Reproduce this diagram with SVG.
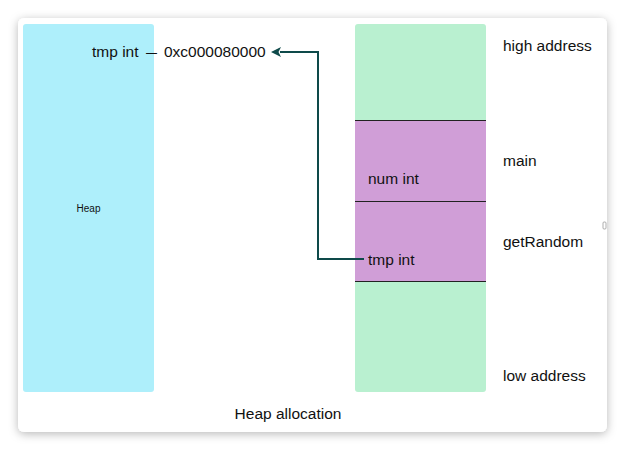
<svg xmlns="http://www.w3.org/2000/svg" width="624" height="449" viewBox="0 0 624 449">
  <defs>
    <filter id="shadow" x="-10%" y="-10%" width="120%" height="120%">
      <feDropShadow dx="0" dy="2" stdDeviation="5" flood-color="#000" flood-opacity="0.28"/>
    </filter>
    <marker id="arrow" viewBox="0 0 10 10" refX="1" refY="5" markerWidth="5" markerHeight="5" orient="auto-start-reverse" markerUnits="strokeWidth">
      <path d="M0,0 L10,5 L0,10 L2.5,5 Z" fill="#0e4a4a"/>
    </marker>
    <style>
      text { font-family: "Liberation Sans", Arial, Helvetica, sans-serif; fill: #111; font-size: 15.5px; }
      .sep { stroke: #222; stroke-width: 1; }
      .link { fill: none; stroke: #0e4a4a; stroke-width: 2; }
    </style>
  </defs>

  <rect x="0" y="0" width="624" height="449" fill="#ffffff"/>
  <!-- card -->
  <rect x="18" y="18" width="589" height="414" rx="6" fill="#ffffff" filter="url(#shadow)"/>
  <rect x="603" y="222" width="3" height="7" rx="1" fill="none" stroke="#999" stroke-width="0.8"/>

  <!-- heap region -->
  <g id="heap">
    <rect x="23" y="24" width="131" height="368" rx="3" fill="#aeeffb"/>
    <text x="88.5" y="212" text-anchor="middle" style="font-size:10px">Heap</text>
  </g>

  <!-- stack column -->
  <g id="stack">
    <rect x="355" y="24" width="131" height="368" rx="3" fill="#b9f0d0"/>
    <rect x="355" y="120" width="131" height="162" fill="#d09ed7"/>
    <line class="sep" x1="355" y1="120.5" x2="486" y2="120.5"/>
    <line class="sep" x1="355" y1="201.5" x2="486" y2="201.5"/>
    <line class="sep" x1="355" y1="281.5" x2="486" y2="281.5"/>
  </g>

  <g id="frame-main">
    <text x="503" y="166">main</text>
    <text x="368" y="184">num int</text>
  </g>

  <g id="frame-getRandom">
    <text x="503" y="247">getRandom</text>
    <text x="368" y="265">tmp int</text>
  </g>

  <g id="heap-value">
    <text y="57"><tspan x="92">tmp int</tspan> <tspan x="146" textLength="11" lengthAdjust="spacingAndGlyphs">–</tspan> <tspan x="164">0xc000080000</tspan></text>
  </g>

  <g id="labels">
    <text x="503" y="51">high address</text>
    <text x="503" y="381">low address</text>
    <text x="288" y="419" text-anchor="middle">Heap allocation</text>
  </g>

  <!-- pointer from stack variable to heap address -->
  <g id="connectors">
    <path class="link" d="M364,259 H318 V52 H280" marker-end="url(#arrow)"/>
  </g>
</svg>
